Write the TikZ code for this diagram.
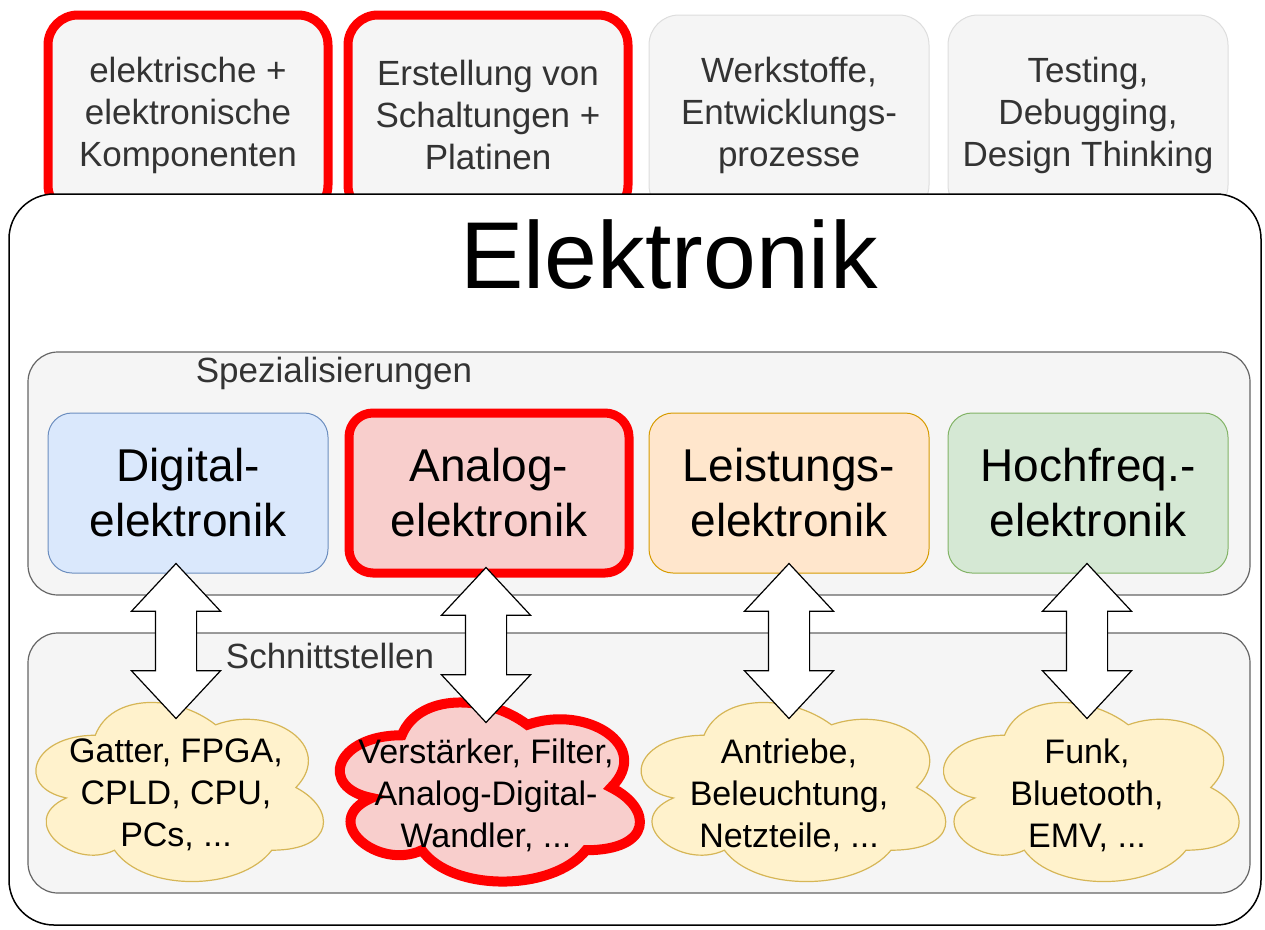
\documentclass[tikz,border=0pt]{standalone}
\usepackage{fontspec}
\setmainfont{Liberation Sans}
\usetikzlibrary{shapes.arrows}

\definecolor{grau}{HTML}{F5F5F5}
\definecolor{graurand}{HTML}{666666}
\definecolor{hellrand}{HTML}{DDDDDD}
\definecolor{schrift}{HTML}{333333}
\definecolor{blaufill}{HTML}{DAE8FC}
\definecolor{blaurand}{HTML}{6C8EBF}
\definecolor{rotfill}{HTML}{F8CECC}
\definecolor{orangefill}{HTML}{FFE6CC}
\definecolor{orangerand}{HTML}{D79B00}
\definecolor{gruenfill}{HTML}{D5E8D4}
\definecolor{gruenrand}{HTML}{82B366}
\definecolor{gelbfill}{HTML}{FFF2CC}
\definecolor{gelbrand}{HTML}{D6B656}

\tikzset{
	thema/.style={draw=hellrand, fill=grau, rounded corners=30pt, minimum width=280pt, minimum height=200pt, align=center, text=schrift, font=\fontsize{35}{42}\selectfont, line width=1pt},
	markiert/.style={draw=red, line width=9pt},
	spezial/.style={rounded corners=24pt, minimum width=280pt, minimum height=160pt, align=center, font=\fontsize{46}{55}\selectfont, line width=1pt},
	klein/.style={align=center, text=schrift, font=\fontsize{35}{42}\selectfont},
	wolkentext/.style={align=center, font=\fontsize{34}{42}\selectfont},
	pfeil/.style={double arrow, draw=black, fill=white, line width=1.2pt, shape border rotate=90, minimum height=155pt, inner sep=20pt, double arrow head extend=24pt, double arrow tip angle=86}
}

% cloud outline: style, x0, y0, w, h
\newcommand{\wolke}[5]{\draw[#1] ({#2+0.25*#4},{#3+0.25*#5}) .. controls ({#2+0.05*#4},{#3+0.25*#5}) and ({#2},{#3+0.5*#5}) .. ({#2+0.16*#4},{#3+0.55*#5})
	.. controls ({#2},{#3+0.66*#5}) and ({#2+0.18*#4},{#3+0.9*#5}) .. ({#2+0.31*#4},{#3+0.8*#5})
	.. controls ({#2+0.4*#4},{#3+#5}) and ({#2+0.7*#4},{#3+#5}) .. ({#2+0.8*#4},{#3+0.8*#5})
	.. controls ({#2+#4},{#3+0.8*#5}) and ({#2+#4},{#3+0.6*#5}) .. ({#2+0.875*#4},{#3+0.5*#5})
	.. controls ({#2+#4},{#3+0.3*#5}) and ({#2+0.8*#4},{#3+0.1*#5}) .. ({#2+0.625*#4},{#3+0.2*#5})
	.. controls ({#2+0.5*#4},{#3+0.05*#5}) and ({#2+0.3*#4},{#3+0.05*#5}) .. ({#2+0.25*#4},{#3+0.25*#5}) -- cycle;}

\begin{document}
\begin{tikzpicture}[x=1pt, y=-1pt]
		\useasboundingbox (0,0) rectangle (1265,929);
		%top topics
			\node[thema, markiert] (komp) at (188,115) {elektrische +\\elektronische\\Komponenten};
			\node[thema, markiert] (schalt) at (488,115) {Erstellung von\\Schaltungen +\\Platinen};
			\node[thema] (werk) at (789,115) {Werkstoffe,\\Entwicklungs-\\prozesse};
			\node[thema] (test) at (1088,115) {Testing,\\Debugging,\\Design Thinking};
		%main box
			\draw[fill=white, line width=1.5pt, rounded corners=45pt] (9,194) rectangle (1261,925);
			\node[font=\fontsize{95}{110}\selectfont] (titel) at (669,255) {Elektronik};
		%specialisations
			\draw[fill=grau, draw=graurand, line width=1.2pt, rounded corners=30pt] (28,352) rectangle (1250,595);
			\node[klein] (spez) at (334,373) {Spezialisierungen};
			\node[spezial, draw=blaurand, fill=blaufill] (digital) at (188,493) {Digital-\\elektronik};
			\node[spezial, fill=rotfill, markiert] (analog) at (489,493) {Analog-\\elektronik};
			\node[spezial, draw=orangerand, fill=orangefill] (leistung) at (789,493) {Leistungs-\\elektronik};
			\node[spezial, draw=gruenrand, fill=gruenfill] (hochfreq) at (1088,493) {Hochfreq.-\\elektronik};
		%interfaces
			\draw[fill=grau, draw=graurand, line width=1.2pt, rounded corners=30pt] (28,633) rectangle (1250,893);
			\node[klein] (schnitt) at (330,656) {Schnittstellen};
			\wolke{draw=gelbrand, fill=gelbfill, line width=1.2pt}{15}{683}{321}{209}
			\wolke{draw=red, fill=rotfill, line width=10pt}{318}{683}{335}{209}
			\wolke{draw=gelbrand, fill=gelbfill, line width=1.2pt}{619}{683}{340}{209}
			\wolke{draw=gelbrand, fill=gelbfill, line width=1.2pt}{922}{683}{330}{209}
			\node[wolkentext] (w1) at (176,795) {Gatter, FPGA,\\CPLD, CPU,\\PCs, ...};
			\node[wolkentext] (w2) at (486,795) {Verstärker, Filter,\\Analog-Digital-\\Wandler, ...};
			\node[wolkentext] (w3) at (789,795) {Antriebe,\\Beleuchtung,\\Netzteile, ...};
			\node[wolkentext] (w4) at (1087,795) {Funk,\\Bluetooth,\\EMV, ...};
		%arrows
			\node[pfeil] (p1) at (digital.south -| w1) [yshift=-67.5pt] {};
			\node[pfeil] (p2) at (analog.south -| w2) [yshift=-67.5pt] {};
			\node[pfeil] (p3) at (leistung.south -| w3) [yshift=-67.5pt] {};
			\node[pfeil] (p4) at (hochfreq.south -| w4) [yshift=-67.5pt] {};
	\end{tikzpicture}
\end{document}
